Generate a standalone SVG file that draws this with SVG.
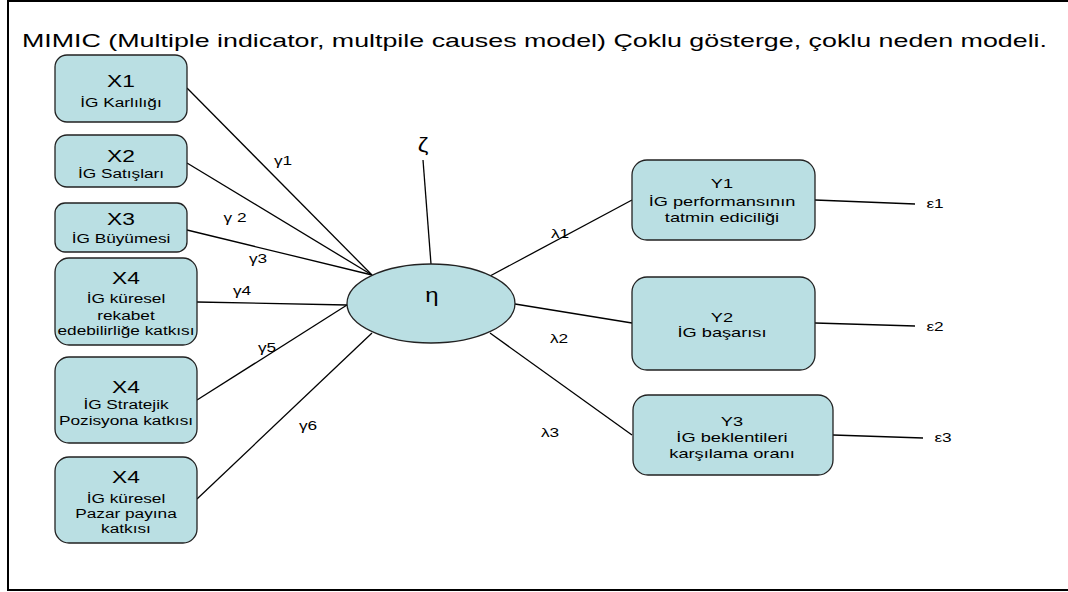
<svg xmlns="http://www.w3.org/2000/svg" width="1068" height="592" viewBox="0 0 1068 592">
<style>
text{font-family:"Liberation Sans",Arial,sans-serif;fill:#000}
.box{fill:#badfe3;stroke:#222;stroke-width:1.3}
.ln{stroke:#000;stroke-width:1.3;fill:none}
.h{font-size:16.5px;text-anchor:middle}
.s{font-size:12.5px;text-anchor:middle}
.y{font-size:13.2px;text-anchor:middle}
.g{font-size:12.5px;text-anchor:middle}
.big{font-size:20px;text-anchor:middle}
</style>
<rect x="8" y="1" width="1070" height="589" fill="#fff" stroke="#000" stroke-width="2"/>
<text x="22" y="47" font-size="19" textLength="1025" lengthAdjust="spacingAndGlyphs">MIMIC (Multiple indicator, multpile causes model) Çoklu gösterge, çoklu neden modeli.</text>
<g id="connectors">
<line class="ln" x1="187" y1="88" x2="372" y2="275"/>
<line class="ln" x1="187" y1="163" x2="372" y2="275"/>
<line class="ln" x1="187" y1="230" x2="372" y2="275"/>
<line class="ln" x1="197" y1="302" x2="347" y2="305"/>
<line class="ln" x1="197" y1="400" x2="347" y2="305"/>
<line class="ln" x1="197" y1="499" x2="372" y2="333"/>
<line class="ln" x1="423" y1="160" x2="431" y2="264"/>
<line class="ln" x1="490" y1="276" x2="632" y2="200"/>
<line class="ln" x1="515" y1="304" x2="632" y2="323"/>
<line class="ln" x1="490" y1="333" x2="632" y2="435"/>
<line class="ln" x1="815" y1="200" x2="915" y2="204"/>
<line class="ln" x1="815" y1="323" x2="915" y2="326"/>
<line class="ln" x1="833" y1="435" x2="923" y2="438"/>
<text class="g" transform="translate(283,165) scale(1.38,1)">γ1</text>
<text class="g" transform="translate(235,222) scale(1.38,1)">γ 2</text>
<text class="g" transform="translate(258,263) scale(1.38,1)">γ3</text>
<text class="g" transform="translate(242,295) scale(1.38,1)">γ4</text>
<text class="g" transform="translate(267,352) scale(1.38,1)">γ5</text>
<text class="g" transform="translate(308,430) scale(1.38,1)">γ6</text>
<text class="g" transform="translate(560,238) scale(1.38,1)">λ1</text>
<text class="g" transform="translate(559,343) scale(1.38,1)">λ2</text>
<text class="g" transform="translate(550,437) scale(1.38,1)">λ3</text>
<text class="g" transform="translate(935,208) scale(1.38,1)">ε1</text>
<text class="g" transform="translate(935,331) scale(1.38,1)">ε2</text>
<text class="g" transform="translate(943,442) scale(1.38,1)">ε3</text>
<text class="big" transform="translate(423,152) scale(1.2,1)">ζ</text>
</g>
<g id="X1">
<rect class="box" x="55" y="55" width="132" height="67" rx="12"/>
<text class="h" transform="translate(121,87) scale(1.38,1)">X1</text>
<text class="s" transform="translate(121,107) scale(1.38,1)">İG Karlılığı</text>
</g>
<g id="X2">
<rect class="box" x="55" y="135" width="132" height="52" rx="12"/>
<text class="h" transform="translate(121,161.5) scale(1.38,1)">X2</text>
<text class="s" transform="translate(121,178) scale(1.38,1)">İG Satışları</text>
</g>
<g id="X3">
<rect class="box" x="55" y="203" width="132" height="49" rx="10"/>
<text class="h" transform="translate(121,225) scale(1.38,1)">X3</text>
<text class="s" transform="translate(121,243) scale(1.38,1)">İG Büyümesi</text>
</g>
<g id="X4a">
<rect class="box" x="55" y="258" width="142" height="87" rx="14"/>
<text class="h" transform="translate(126,284) scale(1.38,1)">X4</text>
<text class="s" transform="translate(126,303) scale(1.38,1)">İG küresel</text>
<text class="s" transform="translate(126,320) scale(1.38,1)">rekabet</text>
<text class="s" transform="translate(126,335) scale(1.38,1)">edebilirliğe katkısı</text>
</g>
<g id="X4b">
<rect class="box" x="55" y="357" width="142" height="86" rx="14"/>
<text class="h" transform="translate(126,393) scale(1.38,1)">X4</text>
<text class="s" transform="translate(126,409) scale(1.38,1)">İG Stratejik</text>
<text class="s" transform="translate(126,425) scale(1.38,1)">Pozisyona katkısı</text>
</g>
<g id="X4c">
<rect class="box" x="55" y="457" width="142" height="86" rx="14"/>
<text class="h" transform="translate(126,483) scale(1.38,1)">X4</text>
<text class="s" transform="translate(126,503) scale(1.38,1)">İG küresel</text>
<text class="s" transform="translate(126,518) scale(1.38,1)">Pazar payına</text>
<text class="s" transform="translate(126,533) scale(1.38,1)">katkısı</text>
</g>
<g id="eta">
<ellipse class="box" cx="431" cy="303.5" rx="84" ry="39.5"/>
<text class="big" transform="translate(432,302) scale(1.2,1)">η</text>
</g>
<g id="Y1">
<rect class="box" x="632" y="160" width="183" height="80" rx="15"/>
<text class="y" transform="translate(722,188) scale(1.38,1)">Y1</text>
<text class="y" transform="translate(722,206) scale(1.38,1)">İG performansının</text>
<text class="y" transform="translate(722,222) scale(1.38,1)">tatmin ediciliği</text>
</g>
<g id="Y2">
<rect class="box" x="632" y="277" width="183" height="93" rx="15"/>
<text class="y" transform="translate(722,322) scale(1.38,1)">Y2</text>
<text class="y" transform="translate(722,337) scale(1.38,1)">İG başarısı</text>
</g>
<g id="Y3">
<rect class="box" x="633" y="395" width="200" height="80" rx="15"/>
<text class="y" transform="translate(732,426) scale(1.38,1)">Y3</text>
<text class="y" transform="translate(732,442) scale(1.38,1)">İG beklentileri</text>
<text class="y" transform="translate(732,458) scale(1.38,1)">karşılama oranı</text>
</g>
</svg>
